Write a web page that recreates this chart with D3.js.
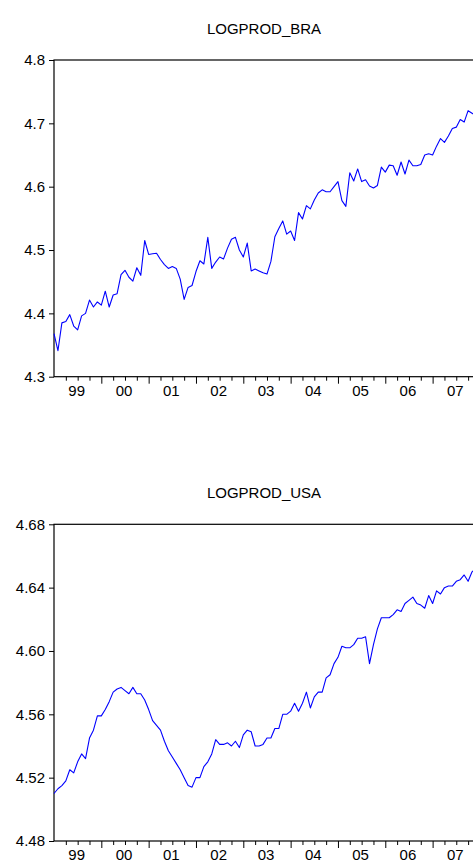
<!DOCTYPE html>
<html><head><meta charset="utf-8">
<script src="https://cdn.jsdelivr.net/npm/d3@7"></script>
<style>
html,body{margin:0;padding:0;background:#fff;}
svg{display:block;}
text{font-family:"Liberation Sans",Arial,sans-serif;fill:#000;}
</style></head>
<body>
<svg id="chart" width="473" height="866"></svg>
<script>
// Monthly observations 1999:01 .. 2007:12
const startYear = 1999;
const yearLabels = ["99","00","01","02","03","04","05","06","07"];

const logprodBRA = [
4.368,4.341,4.385,4.387,4.398,4.380,4.374,4.396,4.400,4.421,4.410,4.418,
4.413,4.435,4.410,4.429,4.431,4.461,4.468,4.457,4.451,4.472,4.460,4.515,
4.493,4.494,4.495,4.485,4.477,4.471,4.474,4.471,4.454,4.422,4.441,4.444,
4.466,4.483,4.478,4.520,4.471,4.481,4.489,4.486,4.503,4.517,4.520,4.500,
4.489,4.511,4.467,4.470,4.467,4.464,4.462,4.482,4.521,4.534,4.546,4.525,
4.530,4.515,4.559,4.549,4.570,4.565,4.579,4.590,4.595,4.592,4.592,4.600,
4.608,4.578,4.569,4.622,4.609,4.628,4.608,4.611,4.601,4.598,4.602,4.631,
4.623,4.634,4.633,4.618,4.639,4.620,4.642,4.633,4.633,4.635,4.650,4.652,
4.650,4.664,4.676,4.670,4.680,4.692,4.694,4.706,4.702,4.720,4.716,4.712];

const logprodUSA = [
4.510,4.513,4.515,4.518,4.525,4.523,4.530,4.535,4.532,4.545,4.550,4.559,
4.559,4.563,4.568,4.574,4.576,4.577,4.575,4.573,4.577,4.573,4.573,4.569,
4.563,4.556,4.553,4.550,4.543,4.537,4.533,4.529,4.525,4.520,4.515,4.514,
4.520,4.520,4.527,4.530,4.535,4.544,4.541,4.541,4.542,4.540,4.543,4.539,
4.547,4.550,4.549,4.540,4.540,4.541,4.545,4.545,4.551,4.551,4.560,4.560,
4.562,4.567,4.562,4.567,4.574,4.564,4.571,4.574,4.574,4.583,4.585,4.592,
4.596,4.603,4.602,4.602,4.604,4.608,4.608,4.609,4.592,4.604,4.614,4.621,
4.621,4.621,4.623,4.626,4.625,4.630,4.632,4.634,4.630,4.629,4.627,4.635,
4.630,4.638,4.636,4.640,4.641,4.641,4.644,4.645,4.648,4.644,4.650,4.652];

const braTicks = [4.3,4.4,4.5,4.6,4.7,4.8];
const usaTicks = [4.48,4.52,4.56,4.60,4.64,4.68];

const panels = [
  {title:"LOGPROD_BRA", values:logprodBRA, ticks:braTicks, fmt:d3.format(".1f"), top:60, bottom:376.7},
  {title:"LOGPROD_USA", values:logprodUSA, ticks:usaTicks, fmt:d3.format(".2f"), top:524.3, bottom:841}
];

const svg = d3.select("#chart");
const left = 54, right = 476;
const n = logprodBRA.length;
const x = d3.scaleLinear().domain([0, n-1]).range([left, right]);

panels.forEach(p => {
  const y = d3.scaleLinear().domain([p.ticks[0], p.ticks[p.ticks.length-1]]).range([p.bottom, p.top]);
  const g = svg.append("g");

  // title
  g.append("text").attr("x", (left+473)/2 + 0.5).attr("y", p.top - 26.5)
    .attr("text-anchor","middle").style("font-size","15px").text(p.title);

  // frame
  g.append("rect").attr("x", left).attr("y", p.top).attr("width", right-left).attr("height", p.bottom-p.top)
    .attr("fill","none").attr("stroke","#000").attr("stroke-width",1.2);

  // y axis
  const ya = d3.axisLeft(y).tickValues(p.ticks).tickFormat(p.fmt).tickSize(5).tickPadding(4);
  const yg = g.append("g").attr("transform",`translate(${left},0)`).call(ya);
  yg.select(".domain").remove();
  yg.selectAll("text").style("font-size","15px").style("font-family","'Liberation Sans',Arial,sans-serif").attr("fill","#000");
  yg.selectAll("line").attr("stroke","#000");

  // x axis ticks: quarterly minor, yearly major
  const minor = d3.range(3, n, 3).filter(i => i % 12 !== 0);
  const major = d3.range(12, n, 12);
  const xaMinor = d3.axisBottom(x).tickValues(minor).tickFormat("").tickSize(4);
  const xaMajor = d3.axisBottom(x).tickValues(major).tickFormat("").tickSize(7);
  [xaMinor, xaMajor].forEach(a => {
    const xg = g.append("g").attr("transform",`translate(0,${p.bottom})`).call(a);
    xg.select(".domain").remove();
    xg.selectAll("line").attr("stroke","#000");
  });
  // year labels centred inside each year
  g.selectAll(".yl").data(yearLabels).enter().append("text")
    .attr("x", (d,k) => x(k*12 + 5.75)).attr("y", p.bottom + 19)
    .attr("text-anchor","middle").style("font-size","15px").text(d => d);

  // series line
  const line = d3.line().x((d,i) => x(i)).y(d => y(d));
  g.append("path").datum(p.values).attr("d", line)
    .attr("fill","none").attr("stroke","#0000ff").attr("stroke-width",1.1).attr("stroke-linejoin","round");
});
</script>
</body></html>
